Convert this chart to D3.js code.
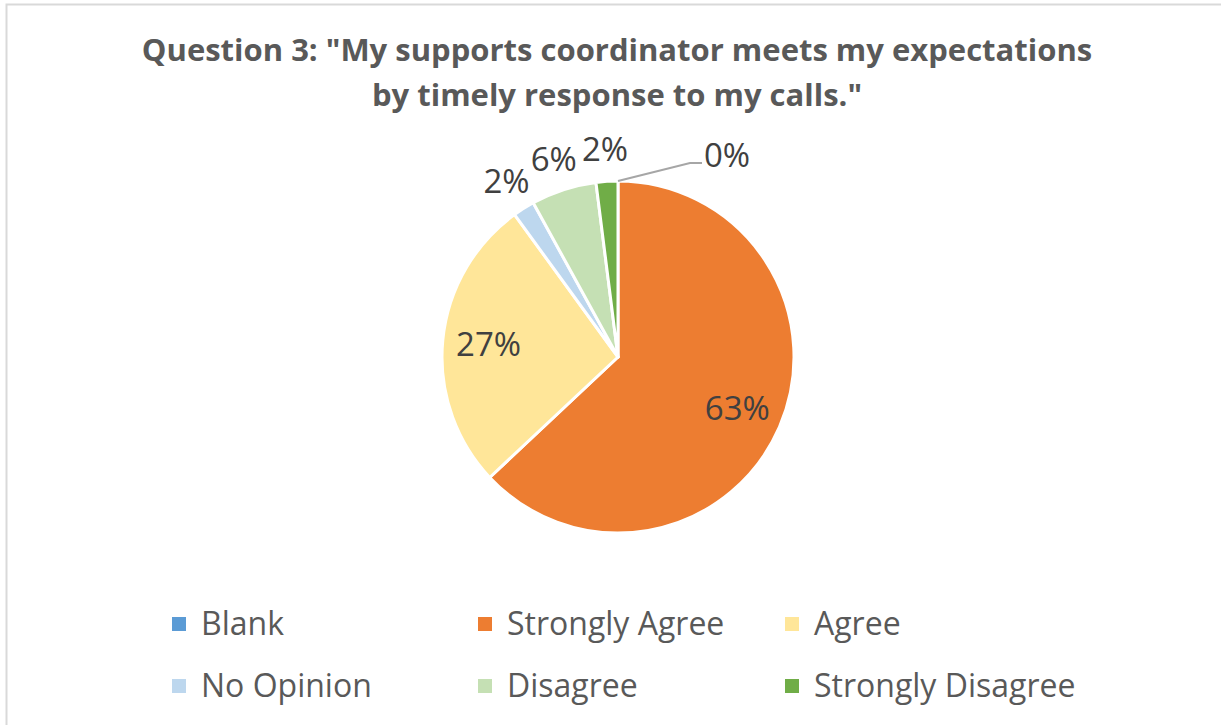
<!DOCTYPE html>
<html>
<head>
<meta charset="utf-8">
<script src="https://cdn.jsdelivr.net/npm/d3@7"></script>
<style>
  body { margin: 0; background: #fff; }
  text { font-family: "Open Sans", "Noto Sans", sans-serif; }
</style>
</head>
<body>
<script>
var categories = ["Blank", "Strongly Agree", "Agree", "No Opinion", "Disagree", "Strongly Disagree"];
var values = [0, 63, 27, 2, 6, 2];
var colors = ["#5B9BD5", "#ED7D31", "#FFE699", "#BDD7EE", "#C5E0B4", "#70AD47"];
var titleLines = ["Question 3: \"My supports coordinator meets my expectations", "by timely response to my calls.\""];

var width = 1221;
var height = 725;
var cx = 618, cy = 357, radius = 176;

var svg = d3.select("body")
    .append("svg")
    .attr("width", width)
    .attr("height", height);

// chart border (runs off the right and bottom edges)
svg.append("rect")
    .attr("x", 6.5)
    .attr("y", 4.5)
    .attr("width", width + 20)
    .attr("height", height + 20)
    .attr("fill", "none")
    .attr("stroke", "#d9d9d9")
    .attr("stroke-width", 2);

svg.selectAll(".title")
    .data(titleLines)
    .enter()
    .append("text")
    .attr("class", "title")
    .attr("x", 617)
    .attr("y", (d, i) => 61 + i * 45)
    .attr("text-anchor", "middle")
    .attr("font-size", "31px")
    .attr("font-weight", "bold")
    .attr("fill", "#595959")
    .text(d => d);

var data = categories.map((c, i) => ({ name: c, value: values[i], color: colors[i] }));
var total = d3.sum(values);

var pie = d3.pie()
    .sort(null)
    .value(d => d.value);

var arcs = pie(data);

var arc = d3.arc()
    .innerRadius(0)
    .outerRadius(radius);

var g = svg.append("g")
    .attr("transform", "translate(" + cx + "," + cy + ")");

g.selectAll("path")
    .data(arcs)
    .enter()
    .append("path")
    .attr("d", arc)
    .attr("fill", d => d.data.color)
    .attr("stroke", "#fff")
    .attr("stroke-width", 3)
    .attr("stroke-linejoin", "round");

var insideArc = d3.arc().innerRadius(130).outerRadius(130);
var outsideArc = d3.arc().innerRadius(208).outerRadius(208);

function pct(d) {
    return Math.round(d.data.value / total * 100) + "%";
}

// labels; big slices inside, small ones outside, zero slice gets a leader line
arcs.forEach(function (d) {
    var share = d.data.value / total;
    if (share === 0) {
        var a = d.startAngle;
        var p0 = [Math.sin(a) * radius, -Math.cos(a) * radius];
        var p1 = [p0[0] + 72, p0[1] - 18];
        var p2 = [p1[0] + 12, p1[1]];
        g.append("polyline")
            .attr("points", [p0, p1, p2].map(p => p.join(",")).join(" "))
            .attr("fill", "none")
            .attr("stroke", "#a6a6a6")
            .attr("stroke-width", 2);
        g.append("text")
            .attr("x", p2[0] + 2)
            .attr("y", p2[1] - 8)
            .attr("dy", "0.35em")
            .attr("font-size", "33px")
            .attr("fill", "#404040")
            .text(pct(d));
        return;
    }
    var pos = share > 0.1 ? insideArc.centroid(d) : outsideArc.centroid(d);
    g.append("text")
        .attr("x", pos[0])
        .attr("y", pos[1])
        .attr("dy", "0.35em")
        .attr("text-anchor", "middle")
        .attr("font-size", "33px")
        .attr("fill", "#404040")
        .text(pct(d));
});

// legend, 3 columns x 2 rows
var colX = [172, 478, 785];
var rowY = [624, 686];

var legend = svg.selectAll(".legend")
    .data(data)
    .enter()
    .append("g")
    .attr("class", "legend")
    .attr("transform", (d, i) => "translate(" + colX[i % 3] + "," + rowY[Math.floor(i / 3)] + ")");

legend.append("rect")
    .attr("x", 0)
    .attr("y", -7)
    .attr("width", 14)
    .attr("height", 14)
    .attr("fill", d => d.color);

legend.append("text")
    .attr("x", 29)
    .attr("y", 0)
    .attr("dy", "0.35em")
    .attr("font-size", "32px")
    .attr("fill", "#595959")
    .text(d => d.name);
</script>
</body>
</html>
